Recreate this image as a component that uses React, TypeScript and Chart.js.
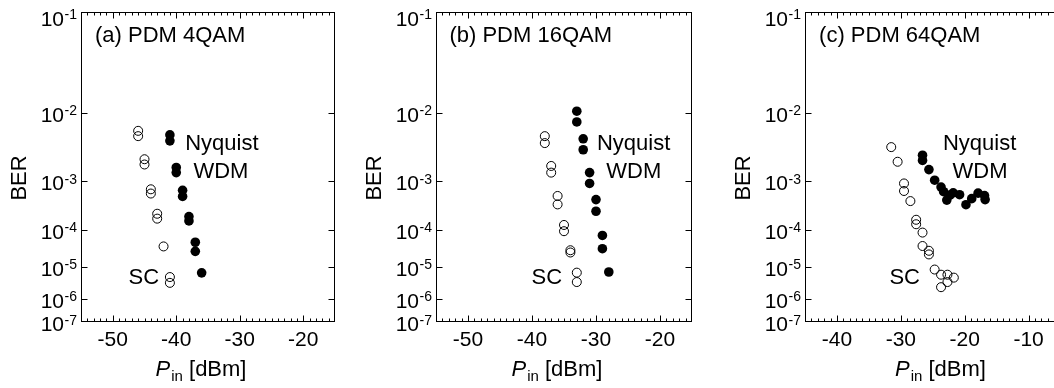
import React, { useEffect, useRef } from 'react';
import { Chart, Scale, registerables } from 'chart.js';

Chart.register(...registerables);

const FONT = '"Liberation Sans", Arial, Helvetica, sans-serif';

// ---------- data (x = Pin [dBm], y = BER) ----------
const SC_4QAM_X = [-46, -46, -45, -45, -44, -44, -43, -43, -42, -41, -41];
const SC_4QAM_BER = [5.9e-3, 5.0e-3, 2.3e-3, 1.9e-3, 7.1e-4, 5.9e-4, 2.3e-4, 1.8e-4, 3.8e-5, 5.0e-6, 3.3e-6];
const NYQ_4QAM_X = [-41, -41, -40, -40, -39, -39, -38, -38, -37, -37, -36];
const NYQ_4QAM_BER = [5.2e-3, 4.3e-3, 1.7e-3, 1.4e-3, 6.8e-4, 5.2e-4, 2.0e-4, 1.6e-4, 4.9e-5, 2.8e-5, 6.7e-6];

const SC_16QAM_X = [-38, -38, -37, -37, -36, -36, -35, -35, -34, -34, -33, -33];
const SC_16QAM_BER = [5.0e-3, 4.0e-3, 1.8e-3, 1.4e-3, 5.3e-4, 3.6e-4, 1.3e-4, 9.3e-5, 3.0e-5, 2.6e-5, 6.8e-6, 3.5e-6];
const NYQ_16QAM_X = [-33, -33, -32, -32, -31, -31, -30, -30, -29, -29, -28];
const NYQ_16QAM_BER = [1.05e-2, 7.7e-3, 4.6e-3, 3.2e-3, 1.4e-3, 9.1e-4, 4.5e-4, 2.6e-4, 7.3e-5, 3.3e-5, 7.1e-6];

const SC_64QAM_X = [-31.5, -30.5, -29.5, -29.5, -28.5, -27.6, -27.6, -26.6, -26.6, -25.6, -25.6, -24.7, -23.7, -22.7, -21.7, -22.7, -23.7];
const SC_64QAM_BER = [3.5e-3, 2.1e-3, 9.1e-4, 6.6e-4, 4.2e-4, 1.7e-4, 1.35e-4, 8.6e-5, 3.9e-5, 2.9e-5, 2.3e-5, 8.4e-6, 5.9e-6, 5.9e-6, 4.8e-6, 3.5e-6, 2.4e-6];
const NYQ_64QAM_X = [-26.6, -26.6, -25.6, -24.7, -23.7, -23.3, -22.8, -22.3, -21.8, -20.8, -19.8, -18.9, -17.9, -16.9, -16.8];
const NYQ_64QAM_BER = [2.65e-3, 2.2e-3, 1.57e-3, 1.04e-3, 7.8e-4, 6.4e-4, 4.4e-4, 5.5e-4, 6.1e-4, 5.6e-4, 3.55e-4, 4.7e-4, 6.0e-4, 5.4e-4, 4.5e-4];

// ---------- ticks ----------
const BER_TICKS = [1e-1, 1e-2, 1e-3, 1e-4, 1e-5, 1e-6, 1e-7];
const BER_TICK_EXPONENTS = ['-1', '-2', '-3', '-4', '-5', '-6', '-7'];
const X_TICKS_AB = [-50, -40, -30, -20];
const X_TICKS_C = [-40, -30, -20, -10];

// ---------- BER (Q-type) scale ----------
const DECADE_POS = [0, 0.3252, 0.5457, 0.7029, 0.8224, 0.9244, 1];
const gq = (n: number) => Math.log10(n + 0.25);

function berToTopFraction(v: number) {
  let n = -Math.log10(v);
  n = Math.min(7, Math.max(1, n));
  let k = Math.floor(n);
  if (k >= 7) k = 6;
  const t = (gq(n) - gq(k)) / (gq(k + 1) - gq(k));
  return DECADE_POS[k - 1] + t * (DECADE_POS[k] - DECADE_POS[k - 1]);
}
function topFractionToBer(f: number) {
  f = Math.min(1, Math.max(0, f));
  let k = 1;
  while (k < 6 && f > DECADE_POS[k]) k++;
  const t = (f - DECADE_POS[k - 1]) / (DECADE_POS[k] - DECADE_POS[k - 1]);
  const g = gq(k) + t * (gq(k + 1) - gq(k));
  const n = Math.pow(10, g) - 0.25;
  return Math.pow(10, -n);
}

class BerScale extends Scale {
  static id = 'ber';
  static defaults = {};
  determineDataLimits() {
    this.min = 1e-7;
    this.max = 1e-1;
  }
  buildTicks() {
    return BER_TICKS.map((value) => ({ value }));
  }
  getLabelForValue(value: number) {
    return String(value);
  }
  getPixelForValue(value: number) {
    return this.getPixelForDecimal(1 - berToTopFraction(value));
  }
  getValueForPixel(pixel: number) {
    return topFractionToBer(1 - this.getDecimalForPixel(pixel));
  }
  getBasePixel() {
    return this.getPixelForDecimal(0);
  }
}
Chart.register(BerScale as any);

// ---------- panels ----------
const PANELS = [
  {
    title: '(a) PDM 4QAM', scX: SC_4QAM_X, scY: SC_4QAM_BER, nyX: NYQ_4QAM_X, nyY: NYQ_4QAM_BER,
    xMin: -55, xMax: -15, xTicks: X_TICKS_AB, titleX: -52.8, nyqX: -38.6, wdmX: -37.3, scLabelX: -42.7, xTitleX: -36.1,
    canvasLeft: 0, canvasWidth: 350, padLeft: 81, padRight: 15,
  },
  {
    title: '(b) PDM 16QAM', scX: SC_16QAM_X, scY: SC_16QAM_BER, nyX: NYQ_16QAM_X, nyY: NYQ_16QAM_BER,
    xMin: -55, xMax: -15, xTicks: X_TICKS_AB, titleX: -52.9, nyqX: -29.85, wdmX: -28.4, scLabelX: -35.3, xTitleX: -36.1,
    canvasLeft: 350, canvasWidth: 352, padLeft: 86, padRight: 10,
  },
  {
    title: '(c) PDM 64QAM', scX: SC_64QAM_X, scY: SC_64QAM_BER, nyX: NYQ_64QAM_X, nyY: NYQ_64QAM_BER,
    xMin: -45, xMax: -5, xTicks: X_TICKS_C, titleX: -42.8, nyqX: -23.4, wdmX: -21.9, scLabelX: -27.0, xTitleX: -23.8,
    canvasLeft: 700, canvasWidth: 366, padLeft: 105, padRight: 0,
  },
];

const H = 388;
const PLOT_TOP = 12;
const PLOT_BOTTOM = 322;

const decoPlugin = {
  id: 'panelDeco',
  afterDraw(chart: any, _args: any, opts: any) {
    const { ctx, chartArea } = chart;
    const { left, right, top, bottom } = chartArea;
    const xs = chart.scales.x;
    const ys = chart.scales.y;
    ctx.save();
    ctx.strokeStyle = '#000';
    ctx.fillStyle = '#000';
    ctx.lineWidth = 1;
    const L = Math.round(left) + 0.5;
    const R = Math.round(right) - 0.5;
    const T = Math.round(top) + 0.5;
    const B = Math.round(bottom) - 0.5;
    ctx.strokeRect(L, T, R - L, B - T);

    // x ticks (inward, both sides)
    ctx.beginPath();
    for (let v = Math.ceil(xs.min) + 1; v < xs.max; v++) {
      const px = Math.round(xs.getPixelForValue(v)) + 0.5;
      const len = v % 10 === 0 ? 6 : 3;
      ctx.moveTo(px, B);
      ctx.lineTo(px, B - len);
      ctx.moveTo(px, T);
      ctx.lineTo(px, T + len);
    }
    // y ticks
    for (let i = 1; i < BER_TICKS.length - 1; i++) {
      const py = Math.round(ys.getPixelForValue(BER_TICKS[i])) + 0.5;
      ctx.moveTo(L, py);
      ctx.lineTo(L + 6, py);
      ctx.moveTo(R, py);
      ctx.lineTo(R - 6, py);
    }
    ctx.stroke();

    // y tick labels 10^-n
    ctx.textBaseline = 'alphabetic';
    BER_TICKS.forEach((t, i) => {
      const py = ys.getPixelForValue(t);
      const off = i === 0 ? 6 : 1.5;
      const base = py + off + 7.5;
      const rightX = left - 4;
      ctx.font = `14px ${FONT}`;
      const expW = ctx.measureText(BER_TICK_EXPONENTS[i]).width;
      ctx.textAlign = 'right';
      ctx.fillText(BER_TICK_EXPONENTS[i], rightX, base - 6.5);
      ctx.font = `21px ${FONT}`;
      ctx.fillText('10', rightX - expW - 0.5, base);
    });

    // y title
    ctx.save();
    ctx.translate(left - 61, (top + bottom) / 2 + 11);
    ctx.rotate(-Math.PI / 2);
    ctx.textAlign = 'center';
    ctx.textBaseline = 'middle';
    ctx.font = `22px ${FONT}`;
    ctx.fillText('BER', 0, 0);
    ctx.restore();

    // x title: P_in [dBm]
    ctx.textAlign = 'left';
    ctx.textBaseline = 'alphabetic';
    ctx.font = `italic 22px ${FONT}`;
    const wP = ctx.measureText('P').width;
    ctx.font = `15px ${FONT}`;
    const wIn = ctx.measureText('in').width;
    ctx.font = `22px ${FONT}`;
    const wRest = ctx.measureText(' [dBm]').width;
    const total = wP + wIn + wRest + 1;
    let sx = xs.getPixelForValue(opts.xTitleX) - total / 2;
    ctx.font = `italic 22px ${FONT}`;
    ctx.fillText('P', sx, 376);
    sx += wP + 1;
    ctx.font = `15px ${FONT}`;
    ctx.fillText('in', sx, 381);
    sx += wIn;
    ctx.font = `22px ${FONT}`;
    ctx.fillText(' [dBm]', sx, 376);

    // annotations
    ctx.font = `22px ${FONT}`;
    const ann = [
      { text: opts.title, x: opts.titleX, y: 6.7e-2, align: 'left' },
      { text: 'Nyquist', x: opts.nyqX, y: 4.1e-3, align: 'left' },
      { text: 'WDM', x: opts.wdmX, y: 1.55e-3, align: 'left' },
      { text: 'SC', x: opts.scLabelX, y: 5.3e-6, align: 'right' },
    ];
    ann.forEach((a) => {
      ctx.textAlign = a.align;
      ctx.fillText(a.text, xs.getPixelForValue(a.x), ys.getPixelForValue(a.y) + 7.9);
    });
    ctx.restore();
  },
};

function Panel({ cfg }: { cfg: any }) {
  const ref = useRef<HTMLCanvasElement | null>(null);
  useEffect(() => {
    const chart = new Chart(ref.current as HTMLCanvasElement, {
      type: 'scatter',
      data: {
        datasets: [
          {
            label: 'SC',
            data: cfg.scX.map((x: number, i: number) => ({ x, y: cfg.scY[i] })),
            pointRadius: 4.5,
            pointBorderWidth: 1,
            pointBackgroundColor: 'rgba(255,255,255,0)',
            pointBorderColor: '#000',
          },
          {
            label: 'Nyquist WDM',
            data: cfg.nyX.map((x: number, i: number) => ({ x, y: cfg.nyY[i] })),
            pointRadius: 4.8,
            pointBorderWidth: 0,
            pointBackgroundColor: '#000',
            pointBorderColor: '#000',
          },
        ],
      },
      options: {
        responsive: false,
        animation: false,
        events: [],
        layout: { padding: { left: cfg.padLeft, right: cfg.padRight, top: PLOT_TOP, bottom: 0 } },
        plugins: {
          legend: { display: false },
          tooltip: { enabled: false },
          panelDeco: cfg,
        } as any,
        scales: {
          x: {
            type: 'linear',
            min: cfg.xMin,
            max: cfg.xMax,
            afterBuildTicks: (s: any) => {
              s.ticks = cfg.xTicks.map((value: number) => ({ value }));
            },
            afterFit: (s: any) => {
              s.height = H - PLOT_BOTTOM;
            },
            grid: { display: false, drawTicks: false },
            border: { display: false },
            ticks: {
              font: { family: FONT, size: 21 },
              color: '#000',
              padding: 6,
              maxRotation: 0,
              autoSkip: false,
            },
          },
          y: { type: 'ber', display: false } as any,
        },
      },
      plugins: [decoPlugin],
    });
    return () => chart.destroy();
  }, []);
  return (
    <canvas
      ref={ref}
      width={cfg.canvasWidth}
      height={H}
      style={{ position: 'absolute', left: cfg.canvasLeft, top: 0, width: cfg.canvasWidth, height: H, display: 'block' }}
    />
  );
}

export default function App() {
  return (
    <div
      style={{
        position: 'absolute',
        left: 0,
        top: 0,
        width: 1054,
        height: H,
        overflow: 'hidden',
        background: '#fff',
      }}
    >
      {PANELS.map((p, i) => (
        <Panel key={i} cfg={p} />
      ))}
    </div>
  );
}
